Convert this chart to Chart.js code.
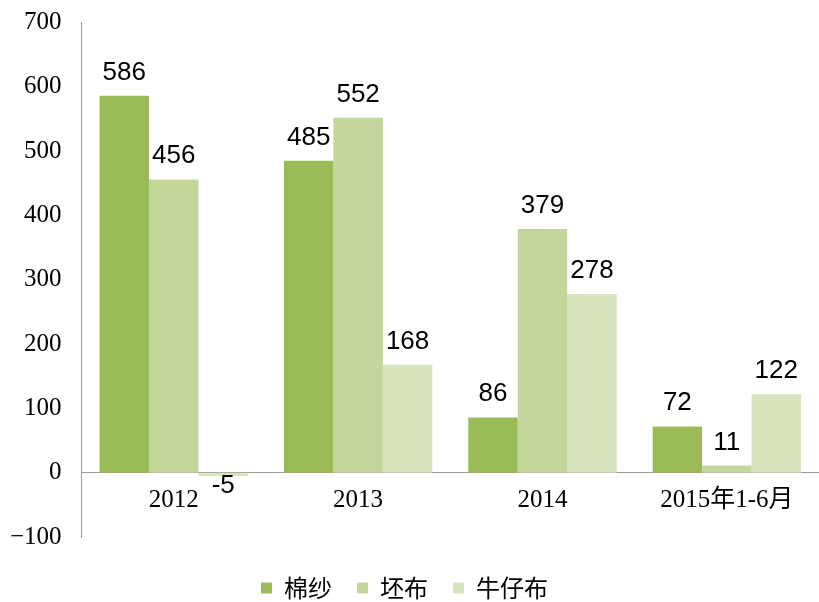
<!DOCTYPE html>
<html>
<head>
<meta charset="utf-8">
<script src="https://cdn.jsdelivr.net/npm/chart.js@4/dist/chart.umd.min.js"></script>
<style>
  html, body { margin: 0; padding: 0; background: #fff; }
  .chart-container { width: 819px; height: 602px; }
</style>
</head>
<body>
<div class="chart-container"><canvas id="chart"></canvas></div>
<script>
const categories = ["2012", "2013", "2014", "2015年1-6月"];
const cottonYarn = [586, 485, 86, 72];
const greyCloth = [456, 552, 379, 11];
const denim = [-5, 168, 278, 122];
const seriesNames = ["棉纱", "坯布", "牛仔布"];
const yTicks = [-100, 0, 100, 200, 300, 400, 500, 600, 700];

// etiquetas de valor encima (o debajo) de cada barra
const valueLabels = {
  id: "valueLabels",
  afterDatasetsDraw(chart) {
    const ctx = chart.ctx;
    ctx.save();
    ctx.font = "26px 'Liberation Sans', Arial, sans-serif";
    ctx.fillStyle = "#000";
    ctx.textAlign = "center";
    ctx.textBaseline = "alphabetic";
    chart.data.datasets.forEach((ds, i) => {
      const meta = chart.getDatasetMeta(i);
      meta.data.forEach((bar, j) => {
        const v = ds.data[j];
        if (v < 0) {
          ctx.fillText(String(v), bar.x, bar.y + 17);
        } else {
          ctx.fillText(String(v), bar.x, bar.y - 16);
        }
      });
    });
    ctx.restore();
  }
};

new Chart(document.getElementById("chart"), {
  type: "bar",
  data: {
    labels: categories,
    datasets: [
      { label: seriesNames[0], data: cottonYarn, backgroundColor: "#9BBB59" },
      { label: seriesNames[1], data: greyCloth, backgroundColor: "#C3D69B" },
      { label: seriesNames[2], data: denim, backgroundColor: "#D7E4BD" }
    ]
  },
  options: {
    responsive: true,
    maintainAspectRatio: false,
    animation: false,
    layout: { padding: { top: 0, right: 0, left: -10, bottom: -8 } },
    datasets: { bar: { categoryPercentage: 0.805, barPercentage: 1 } },
    plugins: {
      legend: {
        position: "bottom",
        title: { display: true, text: " ", padding: { top: 0, bottom: 2 }, font: { size: 10 } },
        labels: {
          boxWidth: 11,
          boxHeight: 11,
          padding: 25,
          color: "#000",
          font: { size: 24, family: "'Noto Sans CJK SC', sans-serif" }
        }
      },
      tooltip: { enabled: false }
    },
    scales: {
      x: {
        position: { y: 0 },
        grid: { display: false, drawTicks: false },
        border: { display: true, color: "#999" },
        ticks: {
          color: "#000",
          padding: 13,
          font: { size: 25, family: "'Liberation Serif', 'Noto Sans CJK SC', serif" }
        }
      },
      y: {
        min: -100,
        max: 700,
        afterBuildTicks(axis) {
          axis.ticks = yTicks.map(v => ({ value: v }));
        },
        afterFit(axis) {
          axis.paddingTop = 22.5;
          axis.paddingBottom = 10;
        },
        grid: { display: false, drawTicks: false },
        border: { display: true, color: "#999" },
        ticks: {
          color: "#000",
          padding: 20,
          font: { size: 25, family: "'Liberation Serif', serif" },
          callback: v => (v < 0 ? "\u2212" + Math.abs(v) : String(v))
        }
      }
    }
  },
  plugins: [valueLabels]
});
</script>
</body>
</html>
